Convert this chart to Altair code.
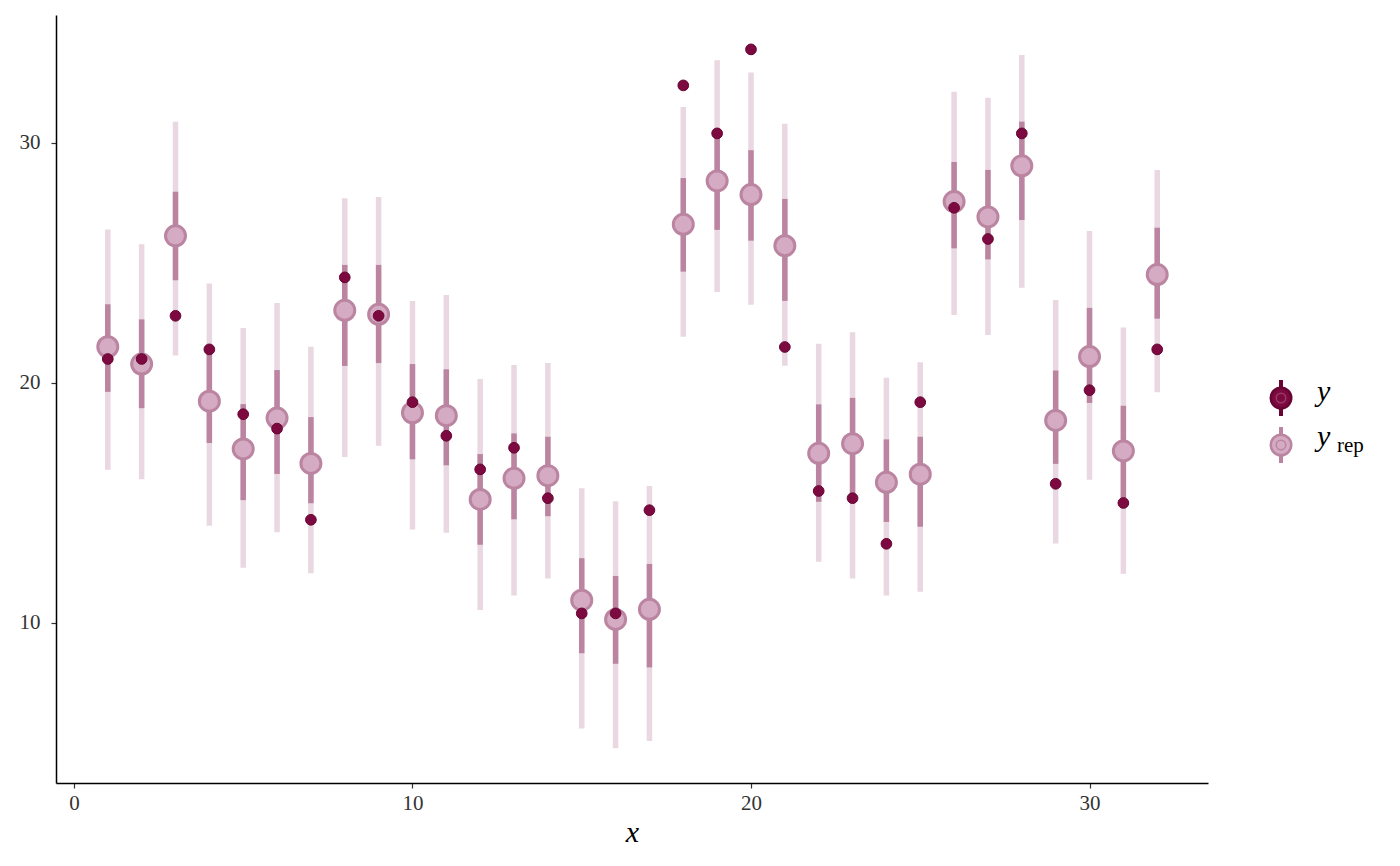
import altair as alt
import pandas as pd

x_idx = list(range(1, 33))
y_obs = [21.0, 21.0, 22.8, 21.4, 18.7, 18.1, 14.3, 24.4, 22.8, 19.2, 17.8, 16.4, 17.3, 15.2,
         10.4, 10.4, 14.7, 32.4, 30.4, 33.9, 21.5, 15.5, 15.2, 13.3, 19.2, 27.3, 26.0, 30.4,
         15.8, 19.7, 15.0, 21.4]
yrep_med = [21.51, 20.79, 26.13, 19.24, 17.25, 18.54, 16.65, 23.03, 22.86, 18.76, 18.64, 15.15,
            16.03, 16.14, 10.95, 10.15, 10.57, 26.61, 28.42, 27.85, 25.72, 17.07, 17.47, 15.86,
            16.20, 27.56, 26.92, 29.05, 18.44, 21.10, 17.17, 24.52]
inner_lo = [19.63, 18.95, 24.28, 17.50, 15.12, 16.21, 14.99, 20.71, 20.83, 16.82, 16.57, 13.26,
            14.32, 14.45, 8.74, 8.30, 8.15, 24.64, 26.38, 25.93, 23.42, 15.05, 15.00, 14.21,
            14.01, 25.61, 25.15, 26.79, 16.63, 19.17, 15.09, 22.68]
inner_hi = [23.28, 22.65, 27.97, 21.50, 19.12, 20.54, 18.58, 24.92, 24.92, 20.79, 20.57, 17.04,
            17.90, 17.76, 12.70, 11.96, 12.46, 28.54, 30.20, 29.70, 27.67, 19.11, 19.38, 17.65,
            17.76, 29.21, 28.88, 30.89, 20.52, 23.13, 19.05, 26.47]
outer_lo = [16.39, 15.99, 21.15, 14.05, 12.30, 13.78, 12.07, 16.92, 17.39, 13.90, 13.76, 10.54,
            11.15, 11.85, 5.60, 4.78, 5.08, 21.93, 23.79, 23.26, 20.72, 12.55, 11.85, 11.15,
            11.30, 22.83, 22.00, 23.97, 13.31, 15.97, 12.05, 19.61]
outer_hi = [26.40, 25.78, 30.88, 24.15, 22.29, 23.33, 21.51, 27.70, 27.75, 23.42, 23.67, 20.17,
            20.75, 20.83, 15.61, 15.07, 15.71, 31.50, 33.45, 32.94, 30.80, 21.63, 22.11, 20.22,
            20.86, 32.13, 31.88, 33.67, 23.46, 26.33, 22.31, 28.87]

df = pd.DataFrame({"x": x_idx, "y": y_obs, "m": yrep_med, "lo": inner_lo, "hi": inner_hi,
                   "ll": outer_lo, "hh": outer_hi})

FONT = "Liberation Serif"
C_OUTER = "#e9d7e1"
C_INNER = "#bb85a1"
C_REP_FILL = "#d4abc2"
C_REP_STROKE = "#bb85a1"
C_Y_FILL = "#7c0a40"
C_Y_STROKE = "#680533"

xs = alt.Scale(domain=[-0.53, 33.5], nice=False, zero=False)
ys = alt.Scale(domain=[3.333, 35.333], nice=False, zero=False)

xenc = alt.X("x:Q", scale=xs, title="x",
             axis=alt.Axis(values=[0, 10, 20, 30], grid=False, format="d", labelPadding=4))
yaxis = alt.Axis(values=[10, 20, 30], grid=False, title=None, format="d", labelPadding=11)

base = alt.Chart(df)

outer = base.mark_rule(color=C_OUTER, strokeWidth=5.5).encode(
    x=xenc, y=alt.Y("ll:Q", scale=ys, axis=yaxis), y2="hh:Q")
inner = base.mark_rule(color=C_INNER, strokeWidth=5.5).encode(
    x="x:Q", y="lo:Q", y2="hi:Q")
rep = base.mark_circle(size=400, fill=C_REP_FILL, stroke=C_REP_STROKE, strokeWidth=3,
                       opacity=1).encode(x="x:Q", y="m:Q")
obs = base.mark_circle(size=115, fill=C_Y_FILL, stroke=C_Y_STROKE, strokeWidth=1,
                       opacity=1).encode(x="x:Q", y="y:Q")

# legend (drawn manually)
one = alt.Chart(pd.DataFrame({"a": [0]}))
LX = 1225
LY1, LY2 = 383, 430
leg = []
for ly, fill, stroke, ring in [(LY1, C_Y_FILL, C_Y_STROKE, "#9a3a66"),
                               (LY2, C_REP_FILL, C_REP_STROKE, C_REP_STROKE)]:
    leg.append(one.mark_rule(color=stroke, strokeWidth=4).encode(
        x=alt.value(LX), y=alt.value(ly - 18), y2=alt.value(ly + 18)))
    leg.append(one.mark_circle(size=420, fill=fill, stroke=stroke, strokeWidth=2.5,
                               opacity=1).encode(x=alt.value(LX), y=alt.value(ly)))
    leg.append(one.mark_point(size=90, filled=False, stroke=ring,
                              strokeWidth=1.5, opacity=1, shape="circle").encode(
        x=alt.value(LX), y=alt.value(ly)))
leg.append(one.mark_text(text="y", font=FONT, fontSize=30, fontStyle="italic", align="left",
                         baseline="alphabetic", color="black").encode(
    x=alt.value(1261), y=alt.value(386)))
leg.append(one.mark_text(text="y", font=FONT, fontSize=30, fontStyle="italic", align="left",
                         baseline="alphabetic", color="black").encode(
    x=alt.value(1261), y=alt.value(431)))
leg.append(one.mark_text(text="rep", font=FONT, fontSize=21, align="left",
                         baseline="alphabetic", color="black").encode(
    x=alt.value(1281), y=alt.value(437)))

chart = alt.layer(outer, inner, rep, obs, *leg).properties(
    width=1152, height=768,
    padding={"left": 48, "top": 7, "right": 184, "bottom": 68},
    autosize=alt.AutoSizeParams(type="none"),
).configure_view(stroke=None).configure_axis(
    domainColor="black", domainWidth=1.5, tickColor="#333333", tickWidth=1.2, tickSize=5,
    labelFont=FONT, labelFontSize=21, labelColor="#333333",
    titleFont=FONT, titleFontSize=30, titleFontStyle="italic", titleFontWeight="normal",
    titleColor="black", titlePadding=4,
)

chart.save("out.html", embed_options={"renderer": "svg", "actions": False})
